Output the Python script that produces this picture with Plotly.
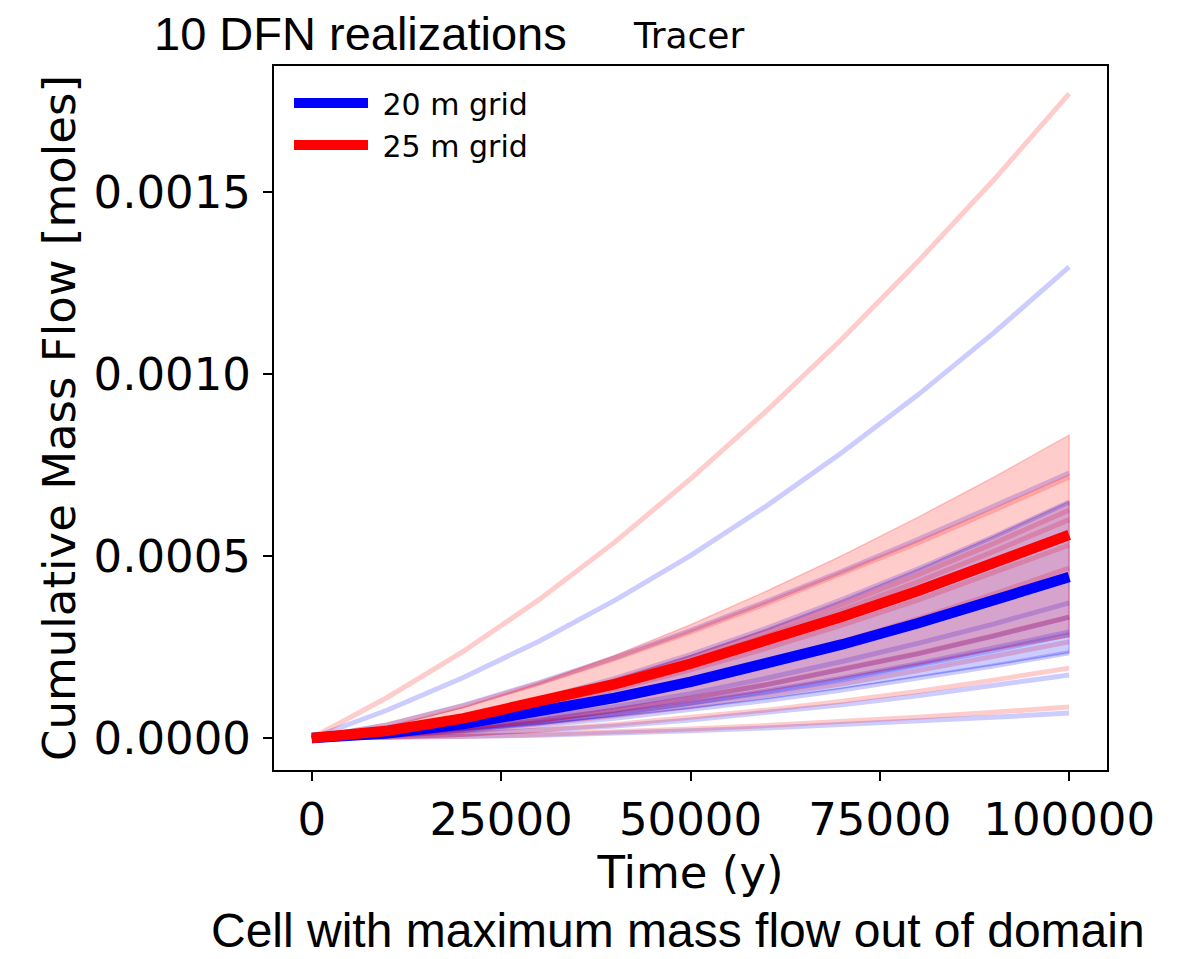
import plotly.graph_objects as go

# ---- data ----
time_y = [0, 10000, 20000, 30000, 40000, 50000, 60000, 70000, 80000, 90000, 100000]

red_runs = [
    [0, 0.000112, 0.000238, 0.000380, 0.000538, 0.000712, 0.000898, 0.001096, 0.001308, 0.001532, 0.001770],
    [0, 0.0000359, 0.0000885, 0.000150, 0.000218, 0.000291, 0.000369, 0.000451, 0.000536, 0.000625, 0.000717],
    [0, 0.0000198, 0.0000560, 0.000103, 0.000158, 0.000221, 0.000291, 0.000367, 0.000448, 0.000534, 0.000626],
    [0, 0.0000190, 0.0000536, 0.0000986, 0.000152, 0.000212, 0.000279, 0.000351, 0.000429, 0.000512, 0.000600],
    [0, 0.0000167, 0.0000474, 0.0000871, 0.000134, 0.000187, 0.000246, 0.000310, 0.000379, 0.000453, 0.000530],
    [0, 0.0000117, 0.0000355, 0.0000680, 0.000108, 0.000154, 0.000206, 0.000264, 0.000327, 0.000395, 0.000467],
    [0, 0.0000083, 0.0000253, 0.0000484, 0.0000767, 0.000110, 0.000147, 0.000188, 0.000232, 0.000281, 0.000332],
    [0, 0.0000066, 0.0000201, 0.0000385, 0.0000610, 0.0000871, 0.000117, 0.000149, 0.000185, 0.000223, 0.000264],
    [0, 0.0000030, 0.0000106, 0.0000220, 0.0000369, 0.0000551, 0.0000766, 0.000101, 0.000128, 0.000159, 0.000192],
    [0, 0.0000013, 0.0000047, 0.0000098, 0.0000164, 0.0000245, 0.0000340, 0.0000448, 0.0000570, 0.0000705, 0.0000852],
]

blue_runs = [
    [0, 0.000077, 0.000166, 0.000266, 0.000378, 0.000501, 0.000637, 0.000784, 0.000942, 0.001112, 0.001294],
    [0, 0.0000365, 0.0000898, 0.000152, 0.000221, 0.000296, 0.000375, 0.000458, 0.000545, 0.000635, 0.000728],
    [0, 0.0000205, 0.0000579, 0.000106, 0.000164, 0.000229, 0.000301, 0.000380, 0.000464, 0.000553, 0.000648],
    [0, 0.0000093, 0.0000282, 0.0000541, 0.0000857, 0.000122, 0.000164, 0.000210, 0.000260, 0.000313, 0.000371],
    [0, 0.0000080, 0.0000248, 0.0000478, 0.0000760, 0.000109, 0.000146, 0.000187, 0.000231, 0.000280, 0.000332],
    [0, 0.0000073, 0.0000221, 0.0000424, 0.0000672, 0.0000960, 0.000129, 0.000164, 0.000204, 0.000246, 0.000291],
    [0, 0.0000071, 0.0000216, 0.0000414, 0.0000656, 0.0000937, 0.000125, 0.000160, 0.000199, 0.000240, 0.000284],
    [0, 0.0000059, 0.0000178, 0.0000341, 0.0000540, 0.0000772, 0.000103, 0.000132, 0.000164, 0.000198, 0.000234],
    [0, 0.0000027, 0.0000095, 0.0000198, 0.0000333, 0.0000497, 0.0000690, 0.0000910, 0.000116, 0.000143, 0.000173],
    [0, 0.0000011, 0.0000038, 0.0000079, 0.0000132, 0.0000197, 0.0000274, 0.0000362, 0.0000460, 0.0000568, 0.0000687],
]

red_mean = [0, 0.0000198, 0.0000541, 0.0000974, 0.000148, 0.000204, 0.000266, 0.000333, 0.000404, 0.000479, 0.000558]
blue_mean = [0, 0.0000133, 0.0000383, 0.0000709, 0.000110, 0.000154, 0.000203, 0.000257, 0.000315, 0.000377, 0.000442]
red_upper = [0, 0.0000316, 0.0000847, 0.000151, 0.000227, 0.000311, 0.000403, 0.000501, 0.000606, 0.000716, 0.000832]
red_lower = [0, 0.0000080, 0.0000235, 0.0000440, 0.0000690, 0.0000970, 0.000129, 0.000165, 0.000202, 0.000242, 0.000278]
blue_upper = [0, 0.0000196, 0.0000563, 0.000104, 0.000161, 0.000227, 0.000299, 0.000378, 0.000463, 0.000554, 0.000650]
blue_lower = [0, 0.0000070, 0.0000203, 0.0000378, 0.0000590, 0.0000810, 0.000107, 0.000136, 0.000167, 0.000200, 0.000234]

x_ticks = [0, 25000, 50000, 75000, 100000]
x_tick_text = ["0", "25000", "50000", "75000", "100000"]
y_ticks = [0.0, 0.0005, 0.0010, 0.0015]
y_tick_text = ["0.0000", "0.0005", "0.0010", "0.0015"]

series_names = ["20 m grid", "25 m grid"]

RED_T = "rgba(255,0,0,0.2)"
BLUE_T = "rgba(0,0,255,0.2)"

fig = go.Figure()

for run in blue_runs:
    fig.add_trace(go.Scatter(x=time_y, y=run, mode="lines",
                             line=dict(color=BLUE_T, width=5), showlegend=False, hoverinfo="skip"))
for run in red_runs:
    fig.add_trace(go.Scatter(x=time_y, y=run, mode="lines",
                             line=dict(color=RED_T, width=5), showlegend=False, hoverinfo="skip"))

# spread bands
fig.add_trace(go.Scatter(x=time_y + time_y[::-1], y=blue_upper + blue_lower[::-1],
                         mode="lines", fill="toself", fillcolor=BLUE_T,
                         line=dict(color=BLUE_T, width=1.5), showlegend=False, hoverinfo="skip"))
fig.add_trace(go.Scatter(x=time_y + time_y[::-1], y=red_upper + red_lower[::-1],
                         mode="lines", fill="toself", fillcolor=RED_T,
                         line=dict(color=RED_T, width=1.5), showlegend=False, hoverinfo="skip"))

# means
fig.add_trace(go.Scatter(x=time_y, y=blue_mean, mode="lines", name="\u00a0" + series_names[0],
                         line=dict(color="rgb(0,0,255)", width=10.5), legendgroup="a"))
fig.add_trace(go.Scatter(x=time_y, y=red_mean, mode="lines", name="\u00a0" + series_names[1],
                         line=dict(color="rgb(255,0,0)", width=10.5), legendgroup="b"))

L, R, T, B = 274, 74, 66, 189
W, H = 1181, 959
pw, ph = W - L - R, H - T - B


def px_x(p):
    return (p - L) / pw


def px_y(p):
    return (H - B - p) / ph


tick_font = dict(family="DejaVu Sans", size=45, color="black")

fig.update_layout(
    width=W, height=H,
    margin=dict(l=L, r=R, t=T, b=B, pad=0),
    plot_bgcolor="white", paper_bgcolor="white",
    showlegend=True,
    legend=dict(x=px_x(289), y=px_y(77), xanchor="left", yanchor="top",
                font=dict(family="DejaVu Sans", size=30, color="black"),
                bgcolor="rgba(255,255,255,0)", itemwidth=74, tracegroupgap=0,
                traceorder="grouped"),
    xaxis=dict(range=[-5000, 105000], tickmode="array", tickvals=x_ticks, ticktext=x_tick_text,
               showgrid=False, zeroline=False, showline=True, mirror=True,
               linecolor="black", linewidth=2, ticks="outside", ticklen=9, tickwidth=2,
               tickcolor="black", tickfont=tick_font,
               title=dict(text="Time (y)", font=tick_font, standoff=7)),
    yaxis=dict(range=[-0.0000879, 0.001846], tickmode="array", tickvals=y_ticks, ticktext=y_tick_text,
               showgrid=False, zeroline=False, showline=True, mirror=True,
               linecolor="black", linewidth=2, ticks="outside", ticklen=9, tickwidth=2,
               tickcolor="black", tickfont=tick_font, ticklabelstandoff=3,
               title=dict(text="Cumulative Mass Flow [moles]", font=tick_font, standoff=4)),
    annotations=[
        dict(text="10 DFN realizations", x=px_x(360), y=px_y(33), xref="paper", yref="paper",
             xanchor="center", yanchor="middle", showarrow=False,
             font=dict(family="Liberation Sans", size=47, color="black")),
        dict(text="Tracer", x=px_x(689), y=px_y(35), xref="paper", yref="paper",
             xanchor="center", yanchor="middle", showarrow=False,
             font=dict(family="DejaVu Sans", size=36, color="black")),
        dict(text="Cell with maximum mass flow out of domain", x=px_x(678), y=px_y(959),
             xref="paper", yref="paper", xanchor="center", yanchor="bottom", showarrow=False,
             font=dict(family="Liberation Sans", size=48, color="black")),
    ],
)

fig.write_html("out.html", config={"displayModeBar": False},
               post_script="document.body.style.margin='0';document.body.style.padding='0';")
